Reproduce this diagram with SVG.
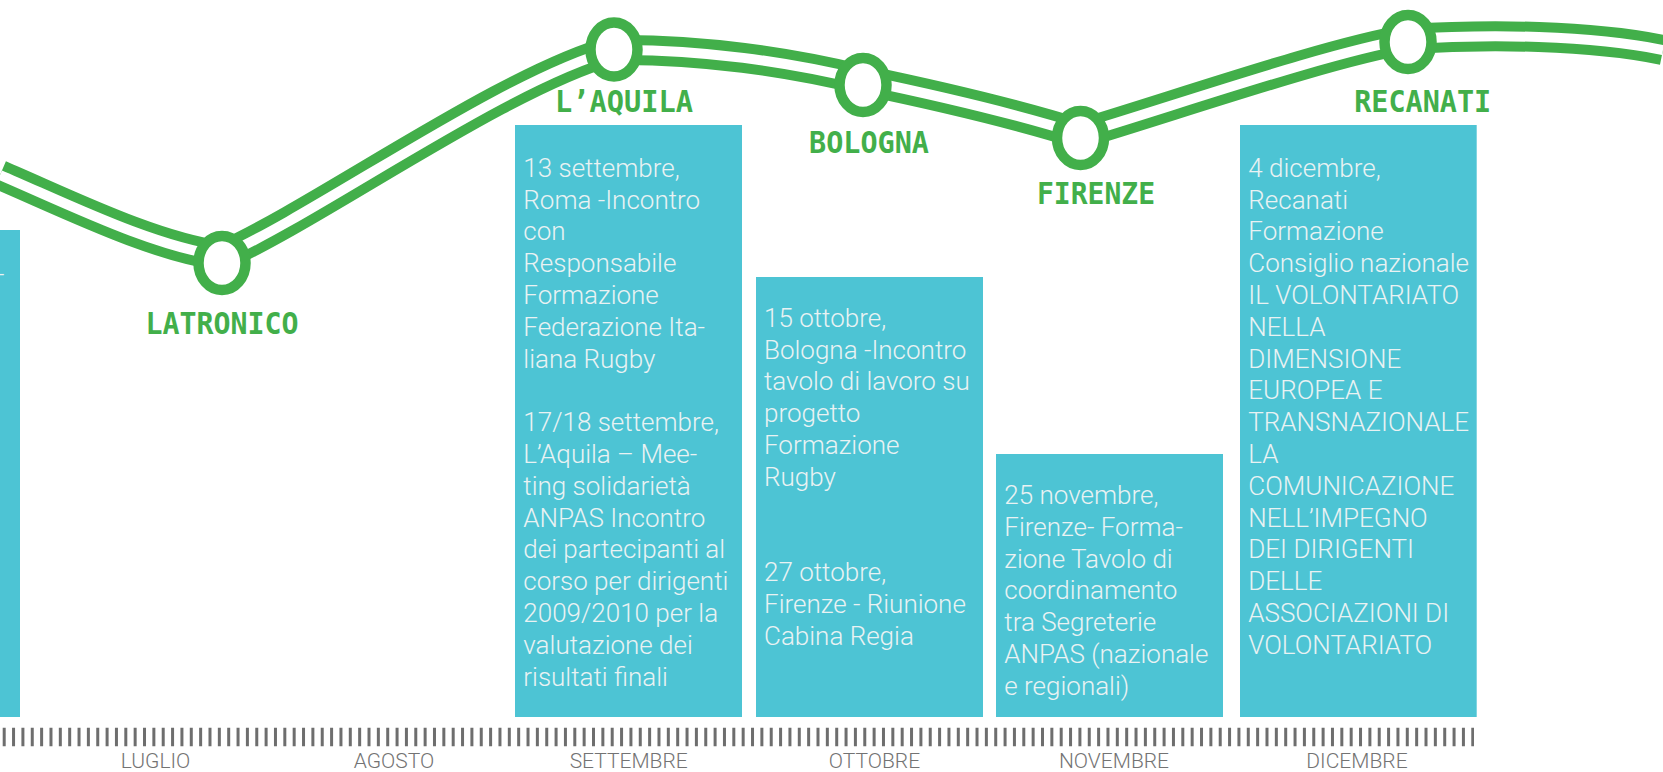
<svg xmlns="http://www.w3.org/2000/svg" xmlns:xlink="http://www.w3.org/1999/xlink" width="1663" height="772" viewBox="0 0 1663 772">
<style>
.box{fill:#4dc4d4}
.bt{font-family:Roboto,"Noto Sans",sans-serif;font-weight:300;font-size:26px;fill:#e9f2f3}
.city{font-family:"DejaVu Sans Mono",monospace;font-weight:bold;font-size:31px;fill:#42af4a;text-anchor:middle}
.node{fill:#fff;stroke:#42af4a;stroke-width:10.5}
.month{font-family:Roboto,"Noto Sans",sans-serif;font-weight:300;font-size:21px;fill:#737373;text-anchor:middle}
.rail{fill:none;stroke:#42af4a;stroke-width:30}
.gap{fill:none;stroke:#fff;stroke-width:10}
</style>
<defs>
<path id="track" d="M0,175 C70,205 152,246 222,256 C322,211 504,80 614,50 C700,49 790,62 863,80 C935,95 1010,112 1080,134 C1180,104 1330,52 1408,39 C1490,34 1590,35 1663,50"/>
</defs>
<rect width="1663" height="772" fill="#fff"/>
<g id="connectors">
<use xlink:href="#track" class="rail"/>
<use xlink:href="#track" class="gap"/>
</g>
<g id="ticks">
<path d="M2.7,737 H1474" fill="none" stroke="#6e6e6e" stroke-width="18.5" stroke-dasharray="3 6.354"/>
</g>
<g id="months">
<text class="month" x="155.5" y="768">LUGLIO</text>
<text class="month" x="394" y="768">AGOSTO</text>
<text class="month" x="628.7" y="768">SETTEMBRE</text>
<text class="month" x="874.5" y="768">OTTOBRE</text>
<text class="month" x="1114" y="768">NOVEMBRE</text>
<text class="month" x="1357" y="768">DICEMBRE</text>
</g>
<g id="box-left">
<rect class="box" x="0" y="230" width="20" height="487"/>
<text class="bt" x="-3" y="283">-</text>
</g>
<g id="node-latronico">
<ellipse class="node" cx="222" cy="263" rx="23.5" ry="27"/>
<text class="city" x="222" y="334" textLength="153" lengthAdjust="spacingAndGlyphs">LATRONICO</text>
</g>
<g id="node-laquila">
<ellipse class="node" cx="614" cy="49.5" rx="23.5" ry="27"/>
<text class="city" x="624" y="112" textLength="138" lengthAdjust="spacingAndGlyphs">L’AQUILA</text>
<rect class="box" x="515" y="125" width="227" height="592"/>
<text class="bt" x="523.3">
<tspan x="523.3" y="176.7">13 settembre,</tspan>
<tspan x="523.3" y="208.5">Roma -Incontro</tspan>
<tspan x="523.3" y="240.3">con</tspan>
<tspan x="523.3" y="272.1">Responsabile</tspan>
<tspan x="523.3" y="303.9">Formazione</tspan>
<tspan x="523.3" y="335.7">Federazione Ita-</tspan>
<tspan x="523.3" y="367.5">liana Rugby</tspan>
<tspan x="523.3" y="431.1">17/18 settembre,</tspan>
<tspan x="523.3" y="462.9">L’Aquila – Mee-</tspan>
<tspan x="523.3" y="494.7">ting solidarietà</tspan>
<tspan x="523.3" y="526.5">ANPAS Incontro</tspan>
<tspan x="523.3" y="558.3">dei partecipanti al</tspan>
<tspan x="523.3" y="590.1">corso per dirigenti</tspan>
<tspan x="523.3" y="621.9">2009/2010 per la</tspan>
<tspan x="523.3" y="653.7">valutazione dei</tspan>
<tspan x="523.3" y="685.5">risultati finali</tspan>
</text>
</g>
<g id="node-bologna">
<ellipse class="node" cx="863" cy="85" rx="23.5" ry="27"/>
<text class="city" x="869" y="152.5" textLength="120" lengthAdjust="spacingAndGlyphs">BOLOGNA</text>
<rect class="box" x="756" y="277" width="227" height="440"/>
<text class="bt">
<tspan x="764" y="326.7">15 ottobre,</tspan>
<tspan x="764" y="358.5">Bologna -Incontro</tspan>
<tspan x="764" y="390.3">tavolo di lavoro su</tspan>
<tspan x="764" y="422.1">progetto</tspan>
<tspan x="764" y="453.9">Formazione</tspan>
<tspan x="764" y="485.7">Rugby</tspan>
<tspan x="764" y="581.1">27 ottobre,</tspan>
<tspan x="764" y="612.9">Firenze - Riunione</tspan>
<tspan x="764" y="644.7">Cabina Regia</tspan>
</text>
</g>
<g id="node-firenze">
<ellipse class="node" cx="1080.5" cy="138" rx="23.5" ry="27"/>
<text class="city" x="1096" y="204" textLength="118" lengthAdjust="spacingAndGlyphs">FIRENZE</text>
<rect class="box" x="996" y="454" width="227" height="263"/>
<text class="bt">
<tspan x="1004.3" y="504">25 novembre,</tspan>
<tspan x="1004.3" y="535.8">Firenze- Forma-</tspan>
<tspan x="1004.3" y="567.6">zione Tavolo di</tspan>
<tspan x="1004.3" y="599.4">coordinamento</tspan>
<tspan x="1004.3" y="631.2">tra Segreterie</tspan>
<tspan x="1004.3" y="663">ANPAS (nazionale</tspan>
<tspan x="1004.3" y="694.8">e regionali)</tspan>
</text>
</g>
<g id="node-recanati">
<ellipse class="node" cx="1408" cy="42" rx="23.5" ry="27"/>
<text class="city" x="1422.7" y="111.7" textLength="137" lengthAdjust="spacingAndGlyphs">RECANATI</text>
<rect class="box" x="1240" y="125" width="236.7" height="592"/>
<text class="bt">
<tspan x="1248.3" y="176.7">4 dicembre,</tspan>
<tspan x="1248.3" y="208.5">Recanati</tspan>
<tspan x="1248.3" y="240.3">Formazione</tspan>
<tspan x="1248.3" y="272.1">Consiglio nazionale</tspan>
<tspan x="1248.3" y="303.9">IL VOLONTARIATO</tspan>
<tspan x="1248.3" y="335.7">NELLA</tspan>
<tspan x="1248.3" y="367.5">DIMENSIONE</tspan>
<tspan x="1248.3" y="399.3">EUROPEA E</tspan>
<tspan x="1248.3" y="431.1">TRANSNAZIONALE</tspan>
<tspan x="1248.3" y="462.9">LA</tspan>
<tspan x="1248.3" y="494.7">COMUNICAZIONE</tspan>
<tspan x="1248.3" y="526.5">NELL’IMPEGNO</tspan>
<tspan x="1248.3" y="558.3">DEI DIRIGENTI</tspan>
<tspan x="1248.3" y="590.1">DELLE</tspan>
<tspan x="1248.3" y="621.9">ASSOCIAZIONI DI</tspan>
<tspan x="1248.3" y="653.7">VOLONTARIATO</tspan>
</text>
</g>
</svg>
